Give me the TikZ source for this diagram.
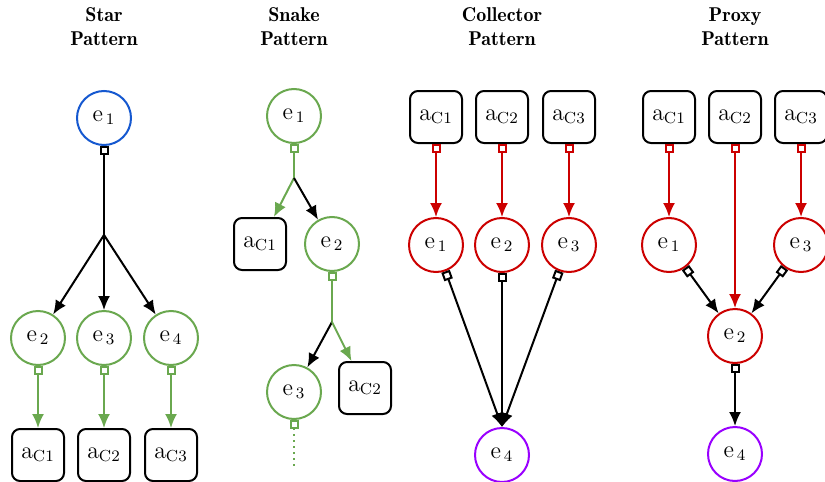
\documentclass[tikz,border=0pt]{standalone}
\usepackage{amsmath}
\usetikzlibrary{positioning,arrows.meta}

\definecolor{starblue}{RGB}{21,88,208}
\definecolor{snakegreen}{RGB}{106,168,79}
\definecolor{colred}{RGB}{204,0,0}
\definecolor{sinkpurple}{RGB}{153,0,255}

\tikzset{
  ent/.style={circle, draw, line width=1pt, minimum size=27pt, inner sep=0pt, font=\large},
  act/.style={rectangle, draw=black, rounded corners=4pt, line width=1pt, minimum size=26pt, inner sep=0pt, font=\large},
  title/.style={align=center, font=\fontseries{b}\selectfont},
  link/.style={line width=1pt, {Square[open,length=4.5pt,width=4.5pt]}-{Latex[length=7pt,width=6pt]}},
  tail/.style={line width=1pt, {Square[open,length=4.5pt,width=4.5pt]}-},
  head/.style={line width=1pt, -{Latex[length=7pt,width=6pt]}}
}
\newcommand{\ent}[1]{$\mathrm{e}_{\,#1}$}
\newcommand{\act}[1]{$\mathrm{a}_{\mathrm{C#1}}$}

\begin{document}
\begin{tikzpicture}[x=0.5pt, y=-0.5pt]
    \useasboundingbox (0,0) rectangle (825,482);

    % titles
    \node[title] (tstar) at (104,27) {Star\\Pattern};
    \node[title] (tsnake) at (294,27) {Snake\\Pattern};
    \node[title] (tcoll) at (502,27) {Collector\\Pattern};
    \node[title] (tproxy) at (735,27) {Proxy\\Pattern};

    % star
    \node[ent, draw=starblue] (se1) at (104,118) {\ent{1}};
    \coordinate (sj) at (104,235);
    \node[ent, draw=snakegreen] (se2) at (38,338) {\ent{2}};
    \node[ent, draw=snakegreen] (se3) at (104,338) {\ent{3}};
    \node[ent, draw=snakegreen] (se4) at (171,338) {\ent{4}};
    \node[act] (sa1) at (38,455) {\act{1}};
    \node[act] (sa2) at (104,455) {\act{2}};
    \node[act] (sa3) at (171,455) {\act{3}};

    \draw[tail] (se1) -- (sj);
    \draw[head] (sj) -- (se2);
    \draw[head] (sj) -- (se3);
    \draw[head] (sj) -- (se4);
    \draw[link, snakegreen] (se2) -- (sa1);
    \draw[link, snakegreen] (se3) -- (sa2);
    \draw[link, snakegreen] (se4) -- (sa3);

    % snake
    \node[ent, draw=snakegreen] (ne1) at (294,116) {\ent{1}};
    \coordinate (nj1) at (294,178);
    \node[act] (na1) at (260,244) {\act{1}};
    \node[ent, draw=snakegreen] (ne2) at (332,244) {\ent{2}};
    \coordinate (nj2) at (332,322);
    \node[ent, draw=snakegreen] (ne3) at (294,392) {\ent{3}};
    \node[act] (na2) at (365,388) {\act{2}};
    \coordinate (nend) at (294,468);

    \draw[tail, snakegreen] (ne1) -- (nj1);
    \draw[head, snakegreen] (nj1) -- (na1);
    \draw[head] (nj1) -- (ne2);
    \draw[tail, snakegreen] (ne2) -- (nj2);
    \draw[head] (nj2) -- (ne3);
    \draw[head, snakegreen] (nj2) -- (na2);
    \draw[tail, snakegreen, dotted] (ne3) -- (nend);

    % collector
    \node[act] (ca1) at (436,117) {\act{1}};
    \node[act] (ca2) at (502,117) {\act{2}};
    \node[act] (ca3) at (569,117) {\act{3}};
    \node[ent, draw=colred] (ce1) at (436,245) {\ent{1}};
    \node[ent, draw=colred] (ce2) at (502,245) {\ent{2}};
    \node[ent, draw=colred] (ce3) at (569,245) {\ent{3}};
    \node[ent, draw=sinkpurple] (ce4) at (502,455) {\ent{4}};

    \draw[link, colred] (ca1) -- (ce1);
    \draw[link, colred] (ca2) -- (ce2);
    \draw[link, colred] (ca3) -- (ce3);
    \draw[link] (ce1) -- (ce4.north);
    \draw[link] (ce2) -- (ce4.north);
    \draw[link] (ce3) -- (ce4.north);

    % proxy
    \node[act] (pa1) at (669,117) {\act{1}};
    \node[act] (pa2) at (735,117) {\act{2}};
    \node[act] (pa3) at (801,117) {\act{3}};
    \node[ent, draw=colred] (pe1) at (669,245) {\ent{1}};
    \node[ent, draw=colred] (pe3) at (801,245) {\ent{3}};
    \node[ent, draw=colred] (pe2) at (735,336) {\ent{2}};
    \node[ent, draw=sinkpurple] (pe4) at (735,454) {\ent{4}};

    \draw[link, colred] (pa1) -- (pe1);
    \draw[link, colred] (pa2) -- (pe2);
    \draw[link, colred] (pa3) -- (pe3);
    \draw[link] (pe1) -- (pe2);
    \draw[link] (pe3) -- (pe2);
    \draw[link] (pe2) -- (pe4);

\end{tikzpicture}
\end{document}
